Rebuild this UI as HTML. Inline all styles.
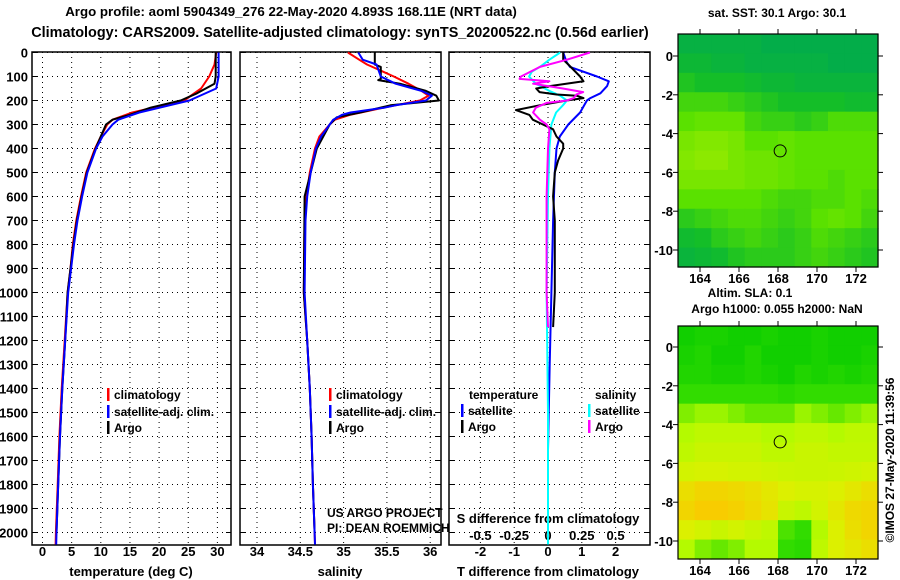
<!DOCTYPE html>
<html><head><meta charset="utf-8"><style>
html,body{margin:0;padding:0;background:#fff;}
svg{display:block;font-family:"Liberation Sans",sans-serif;}
.b{font-weight:bold;}
</style></head><body>
<svg id="c" width="900" height="580" viewBox="0 0 900 580">
<g id="g"></g>
</svg>
<script>
// ---- Data ----
const tempDepthClim=[0,50,100,150,200,250,280,300,350,400,500,600,700,800,900,1000,1200,1400,1600,1800,2000,2050];
const tempClim=[29.8,29.5,28.6,27.2,24.3,15.4,12.0,11.1,10.0,9.0,7.5,6.6,5.8,5.2,4.8,4.3,3.8,3.3,2.9,2.6,2.3,2.25];
const tempSat=[30.2,30.2,30.2,29.8,25.2,16.6,13.0,12.0,10.3,9.2,7.7,6.8,6.0,5.4,4.9,4.4,3.9,3.4,3.0,2.7,2.4,2.35];
const tempDepthArgo=[0,50,100,130,150,170,200,230,260,280,300,350,400,500,600,700,800,900,1000,1200,1400,1600,1800,2000];
const tempArgo=[29.7,29.7,29.7,29.5,28.0,26.5,23.7,18.5,14.9,12.0,10.9,10.0,9.1,7.6,6.7,5.9,5.3,4.8,4.3,3.9,3.4,3.0,2.7,2.4];
const salDepth=[0,30,50,100,130,150,160,180,200,220,230,250,260,280,300,350,400,500,600,700,1000,1200,1400,1600,1800,2000,2050];
const salClim=[35.05,35.18,35.27,35.58,35.75,35.85,35.9,35.98,35.88,35.6,35.46,35.2,35.07,34.9,34.84,34.72,34.67,34.61,34.57,34.55,34.54,34.58,34.61,34.63,34.645,34.665,34.67];
const salSat=[35.17,35.22,35.38,35.43,35.6,35.8,35.9,36.02,35.95,35.6,35.47,35.08,34.98,34.88,34.84,34.74,34.68,34.62,34.58,34.56,34.55,34.58,34.61,34.63,34.645,34.665,34.67];
const salDepthArgo=[0,50,60,110,115,130,160,180,200,220,250,270,300,400,600,1000,1200,1400,1600,1800,2000];
const salArgo=[35.36,35.36,35.43,35.43,35.4,35.65,35.95,36.07,36.1,35.54,35.19,34.92,34.84,34.69,34.55,34.54,34.58,34.61,34.63,34.645,34.665];
const dTDepthSat=[0,40,60,100,120,140,170,190,200,250,300,350,400,500,700,1000,1300,1656];
const dTSat=[0.45,0.55,0.65,1.45,1.8,1.75,1.55,1.25,1.15,0.95,0.6,0.35,0.25,0.2,0.15,0.1,0.05,0.0];
const dTDepthArgo=[0,30,50,100,120,140,150,165,175,180,190,200,220,240,260,280,300,320,350,380,400,450,500,600,700,1000,1144];
const dTArgo=[0.45,0.45,0.6,0.95,1.05,0.05,-0.35,-0.25,0.25,0.85,1.05,0.55,-0.25,-0.95,-0.55,-0.45,-0.15,0.15,0.25,0.45,0.45,0.3,0.2,0.15,0.2,0.2,0.15];
const dSDepthSat=[0,30,60,80,100,130,160,180,200,220,250,300,400,600,1000,1500,2050];
const dSSat=[0.09,0.01,-0.06,-0.12,-0.14,-0.09,0.01,0.09,0.14,0.11,0.06,0.025,0.01,0.0,-0.01,0.0,0.0];
const dSDepthArgo=[0,30,60,100,110,120,130,150,165,175,190,200,210,230,250,280,300,320,400,600,1000,1144];
const dSArgo=[0.31,0.14,-0.06,-0.2,-0.21,0.01,-0.11,0.11,0.26,0.21,0.19,0.14,-0.01,-0.09,-0.11,-0.06,-0.01,0.01,0.0,-0.01,-0.01,0.0];
const depthTicks=[0,100,200,300,400,500,600,700,800,900,1000,1100,1200,1300,1400,1500,1600,1700,1800,1900,2000];
const tTicks=[0,5,10,15,20,25,30];
const sTicks=[34,34.5,35,35.5,36];
const sTickLabels=["34","34.5","35","35.5","36"];
const dTTicks=[-2,-1,0,1,2];
const dSTicks=[-0.5,-0.25,0,0.25,0.5];
const dSTickLabels=["-0.5","-0.25","0","0.25","0.5"];
const lonTicks=[164,166,168,170,172];
const latTicks=[0,-2,-4,-6,-8,-10];
const argoLon=168.11, argoLat=-4.893;
const sstGrid=[
[.1,.1,.1,.1,.1,.05,.05,.05,.05,.05,.05,.05],
[.2,.2,.15,.15,.1,.1,.1,.1,.1,.05,.05,.05],
[.35,.3,.3,.3,.25,.2,.2,.15,.15,.15,.15,.15],
[.5,.5,.5,.45,.4,.35,.3,.3,.3,.3,.25,.25],
[.6,.65,.65,.65,.5,.45,.45,.4,.45,.55,.55,.55],
[.75,.8,.8,.75,.6,.6,.65,.6,.6,.6,.6,.6],
[.8,.85,.85,.75,.7,.7,.65,.6,.6,.6,.6,.6],
[.75,.75,.75,.75,.7,.7,.65,.6,.6,.55,.6,.6],
[.6,.6,.6,.6,.6,.55,.5,.5,.55,.55,.6,.55],
[.4,.45,.5,.55,.55,.5,.45,.5,.6,.65,.6,.5],
[.25,.3,.4,.45,.5,.45,.4,.45,.55,.5,.45,.4],
[.15,.2,.25,.35,.4,.4,.4,.45,.5,.45,.4,.35]];
const slaGrid=[
[.1,.15,.15,.1,.1,.15,.1,.1,.15,.1,.1,.1],
[.15,.2,.1,.1,.2,.1,.1,.1,.15,.1,.1,.15],
[.2,.2,.15,.15,.2,.15,.1,.2,.15,.2,.15,.2],
[.3,.3,.3,.3,.3,.3,.25,.3,.3,.3,.3,.3],
[.45,.5,.5,.45,.4,.4,.4,.5,.45,.4,.45,.5],
[.55,.6,.6,.6,.6,.55,.55,.6,.6,.55,.6,.6],
[.6,.65,.65,.65,.65,.6,.6,.65,.65,.62,.62,.62],
[.7,.72,.72,.7,.7,.68,.66,.65,.65,.66,.68,.7],
[.85,.9,.9,.88,.85,.8,.75,.72,.72,.75,.8,.85],
[.9,.95,.95,.92,.88,.82,.65,.6,.7,.8,.88,.9],
[.75,.7,.65,.7,.65,.6,.35,.3,.55,.75,.85,.9],
[.55,.45,.4,.45,.55,.55,.3,.25,.6,.75,.8,.85]];

// ---- Helpers ----
const NS="http://www.w3.org/2000/svg";
const G=document.getElementById('g');
function mk(tag,attrs,parent){const e=document.createElementNS(NS,tag);for(const k in attrs)e.setAttribute(k,attrs[k]);(parent||G).appendChild(e);return e;}
function txt(x,y,s,anchor,cls,size,parent){const t=mk('text',{x:x,y:y,'text-anchor':anchor||'middle','font-size':size||13,'class':cls||'b'},parent);t.textContent=s;return t;}
const Y0=52.5, YS=0.24;
function yD(d){return Y0+d*YS;}
const PT={x0:32,x1:231}, PS={x0:240,x1:441}, PD={x0:449,x1:650};
const PTOP=52, PBOT=545;
function xT(v){return 42.5+v*5.83;}
function xS(v){return 257+(v-34)*86.6;}
function xDT(v){return 548+v*33.8;}
function xDS(v){return 548+v*4*33.8;}
function line(xs,ds,fx,color,name,w){
  const p=xs.map((v,i)=>fx(v).toFixed(1)+','+yD(ds[i]).toFixed(1)).join(' ');
  const e=mk('polyline',{points:p,fill:'none',stroke:color,'stroke-width':w||2,'stroke-linejoin':'round'});
  
  
}
function panel(P,xticks,fx,labels,name){
  const grp=mk('g',{});
  
  
  depthTicks.forEach(d=>{mk('line',{x1:P.x0,x2:P.x1,y1:yD(d),y2:yD(d),stroke:'#000','stroke-width':1,'stroke-dasharray':'1,4'},grp);
    mk('line',{x1:P.x0,x2:P.x0+5,y1:yD(d),y2:yD(d),stroke:'#000'},grp);mk('line',{x1:P.x1-5,x2:P.x1,y1:yD(d),y2:yD(d),stroke:'#000'},grp);});
  xticks.forEach((v,i)=>{const x=fx(v);mk('line',{x1:x,x2:x,y1:PTOP,y2:PBOT,stroke:'#000','stroke-width':1,'stroke-dasharray':'1,4'},grp);
    if(labels){const t=txt(x,556,labels[i],'middle','b',13,grp);}});
  mk('rect',{x:P.x0,y:PTOP,width:P.x1-P.x0,height:PBOT-PTOP,fill:'none',stroke:'#000','stroke-width':1.5},grp);
}
// Titles
let t=txt(291,16,'Argo profile: aoml 5904349_276 22-May-2020 4.893S 168.11E (NRT data)','middle','b',13.3);

t=txt(340,37,'Climatology: CARS2009. Satellite-adjusted climatology: synTS_20200522.nc (0.56d earlier)','middle','b',14.4);

// Depth labels
depthTicks.forEach(d=>{const e=txt(28,yD(d)+5,String(d),'end','b',13);
  });
// Panels
panel(PT,tTicks,xT,tTicks.map(String),'temperature-panel');
panel(PS,sTicks,xS,sTickLabels,'salinity-panel');
panel(PD,dTTicks,xDT,dTTicks.map(String),'difference-panel');
dSTicks.forEach((v,i)=>{const e=txt(xDS(v),540,dSTickLabels[i],'middle','b',13);
  });
// Axis titles
t=txt(131,576,'temperature (deg C)');
t=txt(340,576,'salinity');
t=txt(548,576,'T difference from climatology');
t=txt(548,523,'S difference from climatology');
// Series
line(tempClim,tempDepthClim,xT,'#f00','temp-climatology-line');
line(tempArgo,tempDepthArgo,xT,'#000','temp-argo-line');
line(tempSat,tempDepthClim,xT,'#00f','temp-satellite-line');
line(salClim,salDepth,xS,'#f00','sal-climatology-line');
line(salArgo,salDepthArgo,xS,'#000','sal-argo-line');
line(salSat,salDepth,xS,'#00f','sal-satellite-line');
line(dTSat,dTDepthSat,xDT,'#00f','t-diff-satellite-line');
line(dSSat,dSDepthSat,xDS,'#0ff','s-diff-satellite-line');
line(dTArgo,dTDepthArgo,xDT,'#000','t-diff-argo-line');
line(dSArgo,dSDepthArgo,xDS,'#f0f','s-diff-argo-line');
// Legends
function leg(x,y,color,label,name){const g=mk('g',{});
  mk('rect',{x:x,y:y-11,width:2.5,height:13,fill:color},g);txt(x+7,y,label,'start','b',12,g);}
leg(107,399,'#f00','climatology','legend-climatology');
leg(107,416,'#00f','satellite-adj. clim.','legend-satellite-adj');
leg(107,432,'#000','Argo','legend-argo');
leg(329,399,'#f00','climatology','legend-sal-climatology');
leg(329,416,'#00f','satellite-adj. clim.','legend-sal-satellite-adj');
leg(329,432,'#000','Argo','legend-sal-argo');
t=txt(469,399,'temperature','start','b',12);
t=txt(595,399,'salinity','start','b',12);
leg(461,415,'#00f','satellite','legend-t-satellite');
leg(461,431,'#000','Argo','legend-t-argo');
leg(588,415,'#0ff','satellite','legend-s-satellite');
leg(588,431,'#f0f','Argo','legend-s-argo');
t=txt(327,517,'US ARGO PROJECT','start','',12);
t=txt(327,532,'PI: DEAN ROEMMICH','start','',12);
// Maps
function lerp(a,b,f){return a.map((v,i)=>Math.round(v+(b[i]-v)*f));}
function cmap(stops,v){for(let i=0;i<stops.length-1;i++){if(v<=stops[i+1][0]){const f=(v-stops[i][0])/(stops[i+1][0]-stops[i][0]);const c=lerp(stops[i][1],stops[i+1][1],f);return 'rgb('+c.join(',')+')';}}return 'rgb('+stops[stops.length-1][1].join(',')+')';}
const sstStops=[[0,[0,170,80]],[0.3,[20,190,40]],[0.6,[90,225,0]],[1,[170,238,0]]];
const slaStops=[[0,[0,200,0]],[0.3,[50,220,0]],[0.55,[180,250,0]],[0.75,[220,240,0]],[1,[255,195,0]]];
function mapPanel(y0,grid,stops,name,ylat0){
  const x0=678,x1=878,y1=y0+233;
  const g=mk('g',{});
  const nr=grid.length,nc=grid[0].length,cw=(x1-x0)/nc,ch=(y1-y0)/nr;
  grid.forEach((row,r)=>row.forEach((v,c)=>{const e=mk('rect',{x:(x0+c*cw).toFixed(2),y:(y0+r*ch).toFixed(2),width:(cw+0.6).toFixed(2),height:(ch+0.6).toFixed(2),fill:cmap(stops,v)},g);
    }));
  const lx=lon=>700+(lon-164)*19.5;
  const ly=lat=>ylat0-lat*19.4;
  mk('rect',{x:x0,y:y0,width:x1-x0,height:y1-y0,fill:'none',stroke:'#000','stroke-width':1.2},g);
  latTicks.forEach(l=>{const y=ly(l);mk('line',{x1:x0-5,x2:x0,y1:y,y2:y,stroke:'#000'},g);mk('line',{x1:x1,x2:x1+5,y1:y,y2:y,stroke:'#000'},g);
    txt(673,y+5,String(l),'end','b',13,g);});
  lonTicks.forEach(l=>{const x=lx(l);mk('line',{x1:x,x2:x,y1:y1,y2:y1+5,stroke:'#000'},g);mk('line',{x1:x,x2:x,y1:y0-5,y2:y0,stroke:'#000'},g);
    txt(x,y1+16,String(l),'middle','b',13,g);});
  const c=mk('circle',{cx:lx(argoLon),cy:ly(argoLat),r:6,fill:'none',stroke:'#000','stroke-width':1},g);
  
}
mapPanel(34,sstGrid,sstStops,'sst-map',56);
mapPanel(326,slaGrid,slaStops,'sla-map',347);
t=txt(777,17,'sat. SST: 30.1 Argo: 30.1','middle','b',12);
t=txt(750,297,'Altim. SLA: 0.1','middle','b',12);
t=txt(777,313,'Argo h1000: 0.055 h2000: NaN','middle','b',12);
t=txt(0,0,'©IMOS 27-May-2020 11:39:56','middle','',12);t.setAttribute('transform','translate(894,460) rotate(-90)');

</script>
</body></html>
